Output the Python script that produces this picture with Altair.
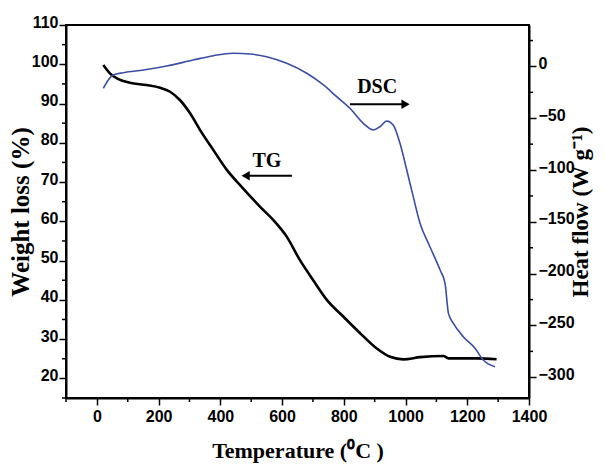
import altair as alt
import pandas as pd

# ---- data ----
tg_temp = [21, 42, 70, 107, 161, 205, 237, 269, 302, 334, 377, 421, 469, 529, 572,
           615, 658, 701, 745, 799, 853, 907, 950, 993, 1047, 1123, 1139, 1231, 1295]
tg_weight = [99.8, 97.7, 96.2, 95.3, 94.7, 94.0, 93.0, 90.9, 87.5, 83.3, 78.2, 73.1, 68.8, 63.7, 60.3,
             56.1, 50.1, 45.0, 40.0, 35.7, 31.5, 27.6, 25.5, 24.85, 25.4, 25.7, 25.1, 25.1, 24.85]

dsc_temp = [21, 37, 53, 86, 151, 226, 312, 377, 442, 496, 550, 615, 680, 734, 777, 820, 863,
            896, 917, 939, 960, 982, 1004, 1025, 1047, 1079, 1112, 1128, 1139, 1155, 1187, 1225, 1252, 1290]
dsc_heat = [-21.1, -13.1, -8.3, -6.0, -3.4, 0.4, 6.2, 10.4, 12.7, 12.0, 9.4, 3.0, -6.6, -17.9, -29.2, -40.4, -54.9,
            -61.3, -58.2, -52.7, -56.5, -74.2, -100, -125.7, -151.4, -174, -196.5, -209.3, -238.3, -247.9, -260.8, -272, -283.3, -289.8]

x_major = [0, 200, 400, 600, 800, 1000, 1200, 1400]
x_minor = [-100, 100, 300, 500, 700, 900, 1100, 1300]
w_major = [20, 30, 40, 50, 60, 70, 80, 90, 100, 110]
w_minor = [15, 25, 35, 45, 55, 65, 75, 85, 95, 105]
h_major = [-300, -250, -200, -150, -100, -50, 0]
h_minor = [-275, -225, -175, -125, -75, -25, 25]

ann_label = ["DSC", "TG"]
ann_temp = [908, 551]
ann_weight = [92.7, 73.8]

arrow_start = [820, 632]
arrow_end = [1000, 482]
arrow_weight = [89.8, 71.6]
arrow_shape = ["triangle-right", "triangle-left"]

tg_df = pd.DataFrame({"T": tg_temp, "W": tg_weight})
dsc_df = pd.DataFrame({"T": dsc_temp, "H": dsc_heat})
ann_df = pd.DataFrame({"label": ann_label, "T": ann_temp, "W": ann_weight})
arr_df = pd.DataFrame({"T1": arrow_start, "T2": arrow_end, "W": arrow_weight, "shape": arrow_shape})

W, H = 463, 373
xs = alt.Scale(domain=[-100, 1400], nice=False, zero=False)
ys_l = alt.Scale(domain=[15, 110], nice=False, zero=False)
ys_r = alt.Scale(domain=[-320, 40], nice=False, zero=False)

x_title = "Temperature (\u2070C )"

x_axis = alt.Axis(values=x_major, format="d", title=x_title, titleFontSize=22, labelPadding=3,
                  labelFlush=False, titlePadding=16, tickColor="black", tickWidth=1.5, tickSize=7,
                  domainColor="black", domainWidth=2, labelFont="Liberation Sans", labelFontSize=16,
                  labelFontWeight="bold", labelColor="black", titleFont="Liberation Serif",
                  titleFontWeight="bold", titleColor="black", grid=False)
l_axis = alt.Axis(values=w_major, format="d", title="Weight loss (%)", titleFontSize=25, labelPadding=1,
                  labelOffset=-3, labelFlush=False, titlePadding=-2, tickColor="black", tickWidth=1.5, tickSize=7,
                  domainColor="black", domainWidth=2, labelFont="Liberation Sans", labelFontSize=16,
                  labelFontWeight="bold", labelColor="black", titleFont="Liberation Serif",
                  titleFontWeight="bold", titleColor="black", grid=False)
r_axis = alt.Axis(values=h_major, format="d", orient="right", title="Heat flow (W g\u207b\u00b9)",
                  titleFontSize=23, labelPadding=2, labelOffset=-3, labelFlush=False, titlePadding=18,
                  titleAngle=270, tickColor="black", tickWidth=1.5, tickSize=7,
                  domainColor="black", domainWidth=2, labelFont="Liberation Sans", labelFontSize=16,
                  labelFontWeight="bold", labelColor="black", titleFont="Liberation Serif",
                  titleFontWeight="bold", titleColor="black", grid=False)

tg_line = alt.Chart(tg_df).mark_line(color="black", strokeWidth=2.6, interpolate="monotone").encode(
    x=alt.X("T:Q", scale=xs, axis=x_axis),
    y=alt.Y("W:Q", scale=ys_l, axis=l_axis),
)
dsc_line = alt.Chart(dsc_df).mark_line(color="#3b4ea6", strokeWidth=1.6, interpolate="monotone").encode(
    x=alt.X("T:Q", scale=xs),
    y=alt.Y("H:Q", scale=ys_r, axis=r_axis),
)

x_minor_ticks = alt.Chart(pd.DataFrame({"T": x_minor})).mark_rule(color="black", strokeWidth=1.5).encode(
    x=alt.X("T:Q", scale=xs), y=alt.value(H), y2=alt.value(H + 4)
)
l_minor_ticks = alt.Chart(pd.DataFrame({"W": w_minor})).mark_rule(color="black", strokeWidth=1.5).encode(
    y=alt.Y("W:Q", scale=ys_l, axis=None), x=alt.value(0), x2=alt.value(-4)
)
r_minor_ticks = alt.Chart(pd.DataFrame({"H": h_minor})).mark_rule(color="black", strokeWidth=1.5).encode(
    y=alt.Y("H:Q", scale=ys_r, axis=None), x=alt.value(W), x2=alt.value(W + 4)
)

ann_text = alt.Chart(ann_df).mark_text(font="Liberation Serif", fontSize=20, fontWeight="bold",
                                       baseline="alphabetic", align="center", color="black").encode(
    x=alt.X("T:Q", scale=xs), y=alt.Y("W:Q", scale=ys_l, axis=None), text="label:N"
)
arr_line = alt.Chart(arr_df).mark_rule(color="black", strokeWidth=2).encode(
    x=alt.X("T1:Q", scale=xs, title=x_title), x2="T2:Q", y=alt.Y("W:Q", scale=ys_l, axis=None)
)
arr_head = alt.Chart(arr_df).mark_point(filled=True, color="black", opacity=1, size=90).encode(
    x=alt.X("T2:Q", scale=xs, title=x_title), y=alt.Y("W:Q", scale=ys_l, axis=None),
    shape=alt.Shape("shape:N", scale=None)
)

chart = alt.layer(tg_line, dsc_line, x_minor_ticks, l_minor_ticks, r_minor_ticks,
                  ann_text, arr_line, arr_head).resolve_scale(y="independent").properties(
    width=W, height=H,
    autosize=alt.AutoSizeParams(type="none"),
    padding={"left": 58, "top": 17, "right": 68, "bottom": 66},
    background="white",
).configure_view(stroke="black", strokeWidth=2)

chart.save("out.html", embed_options={"renderer": "svg", "actions": False})
